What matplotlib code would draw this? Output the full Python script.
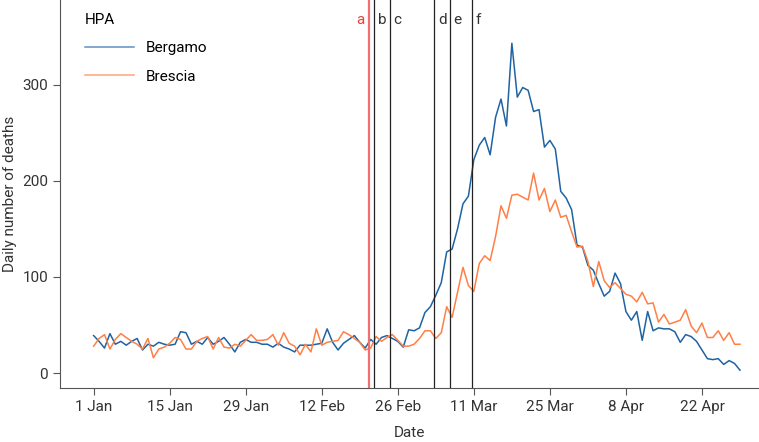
import pandas as pd
import matplotlib
matplotlib.use("Agg")
import matplotlib.pyplot as plt
import matplotlib.dates as mdates

plt.rcParams['font.family'] = ['Roboto', 'DejaVu Sans']

start = "2020-01-01"

bergamo = [39, 33, 26, 41, 30, 33, 29, 33, 36, 24, 30, 28, 32, 30, 29, 30, 43, 42, 30, 33,
           30, 37, 30, 33, 37, 30, 22, 32, 35, 32, 32, 30, 30, 27, 31, 27, 25, 22, 29, 29,
           29, 30, 31, 46, 32, 24, 31, 35, 39, 32, 26, 35, 30, 37, 39, 36, 33, 27, 45, 44,
           47, 63, 69, 81, 94, 126, 129, 150, 176, 184, 222, 237, 245, 227, 266, 285, 257, 343, 287, 297,
           294, 272, 274, 235, 242, 233, 189, 182, 170, 133, 131, 112, 107, 93, 80, 85, 104, 93, 64, 55,
           64, 34, 64, 44, 47, 46, 46, 43, 32, 40, 38, 33, 24, 15, 14, 15, 9, 13, 10, 3]

brescia = [28, 36, 40, 25, 35, 41, 37, 33, 30, 25, 36, 16, 25, 27, 31, 37, 35, 25, 25, 33,
           36, 38, 25, 37, 27, 26, 30, 28, 34, 40, 34, 34, 35, 40, 29, 42, 31, 28, 19, 30,
           22, 46, 29, 32, 33, 34, 43, 40, 36, 32, 24, 26, 38, 33, 37, 40, 34, 28, 28, 30,
           36, 44, 44, 36, 42, 69, 58, 84, 110, 91, 85, 114, 122, 117, 142, 174, 161, 185, 186, 183,
           180, 208, 180, 192, 168, 180, 162, 164, 147, 131, 132, 116, 90, 116, 96, 89, 94, 88, 82, 80,
           74, 84, 72, 73, 53, 61, 51, 53, 55, 66, 49, 42, 52, 37, 37, 44, 34, 42, 30, 30]

events = ["a", "b", "c", "d", "e", "f"]
event_dates = ["2020-02-20 15:00", "2020-02-21 17:00", "2020-02-24 12:00",
               "2020-03-03 17:00", "2020-03-06 14:00", "2020-03-10 14:00"]

tick_dates = ["2020-01-01", "2020-01-15", "2020-01-29", "2020-02-12", "2020-02-26",
              "2020-03-11", "2020-03-25", "2020-04-08", "2020-04-22"]

dates = pd.date_range(start, periods=len(bergamo), freq="D")

fig = plt.figure(figsize=(7.59, 4.42), dpi=100)
ax = fig.add_axes([0.079, 0.122, 0.921, 0.878])

ax.plot(dates, bergamo, color="#1f63a3", lw=1.1, label="Bergamo")
ax.plot(dates, brescia, color="#ff7f45", lw=1.1, label="Brescia")

for name, d in zip(events, event_dates):
    d = pd.Timestamp(d)
    if name == "a":
        ax.axvline(d, color="#f07070", lw=1.6)
        ax.text(d - pd.Timedelta(hours=16), 367, name, color="#e8403a", fontsize=11,
                ha="right", va="center")
    else:
        ax.axvline(d, color="#222222", lw=0.9)
        ax.text(d + pd.Timedelta(hours=16), 367, name, color="#333333", fontsize=11,
                ha="left", va="center")

ax.set_xlim(pd.Timestamp(start) - pd.Timedelta(days=6.2), pd.Timestamp(start) + pd.Timedelta(days=122.5))
ax.set_ylim(-15.6, 388)
ax.set_xticks([pd.Timestamp(t) for t in tick_dates])
ax.xaxis.set_major_formatter(mdates.DateFormatter("%-d %b"))
ax.set_yticks([0, 100, 200, 300])

for s in ["top", "right"]:
    ax.spines[s].set_visible(False)
for s in ["left", "bottom"]:
    ax.spines[s].set_color("#555555")
ax.tick_params(colors="#555555", labelcolor="#333333", labelsize=11, length=5)

ax.set_xlabel("Date", fontsize=11, color="#333333", labelpad=9)
ax.set_ylabel("Daily number of deaths", fontsize=11, color="#333333")

leg = ax.legend(title="HPA", loc="upper left", bbox_to_anchor=(0.02, 0.995), frameon=False,
                fontsize=11, title_fontsize=11, handlelength=3.2, labelspacing=0.95,
                borderpad=0.2)
leg._legend_box.align = "left"
for h in leg.legend_handles:
    h.set_alpha(0.7)

fig.savefig("out.png", dpi=100)
